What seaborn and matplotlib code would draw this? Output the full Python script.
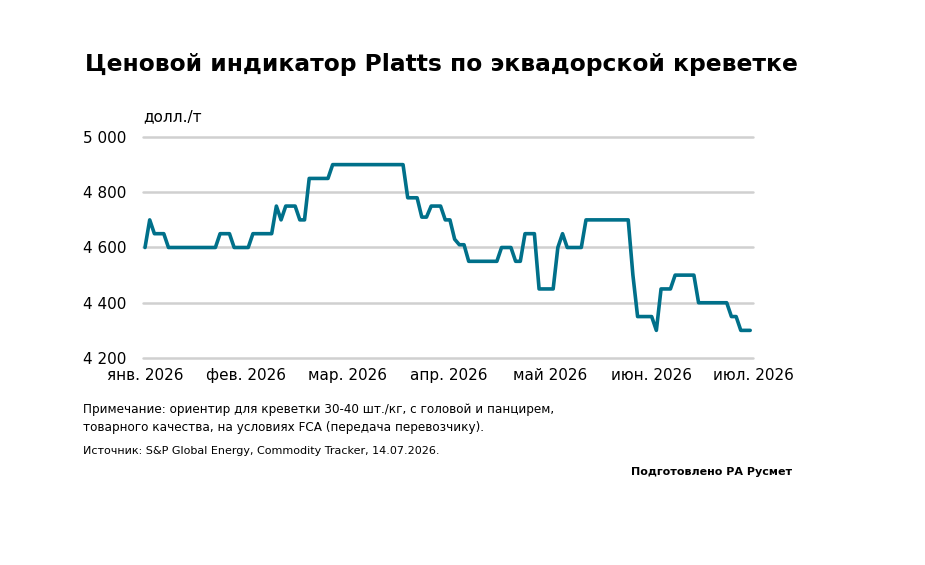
import numpy as np
import pandas as pd
import matplotlib
matplotlib.use("Agg")
import matplotlib.pyplot as plt
import seaborn as sns

# Platts indicator, USD/t, one value per observation (business days, Jan -> early Jul 2026)
prices = [
    4600, 4700, 4650, 4650, 4650, 4600, 4600, 4600, 4600, 4600,
    4600, 4600, 4600, 4600, 4600, 4600, 4650, 4650, 4650, 4600,
    4600, 4600, 4600, 4650, 4650, 4650, 4650, 4650, 4750, 4700,
    4750, 4750, 4750, 4700, 4700, 4850, 4850, 4850, 4850, 4850,
    4900, 4900, 4900, 4900, 4900, 4900, 4900, 4900, 4900, 4900,
    4900, 4900, 4900, 4900, 4900, 4900, 4780, 4780, 4780, 4710,
    4710, 4750, 4750, 4750, 4700, 4700, 4630, 4610, 4610, 4550,
    4550, 4550, 4550, 4550, 4550, 4550, 4600, 4600, 4600, 4550,
    4550, 4650, 4650, 4650, 4450, 4450, 4450, 4450, 4600, 4650,
    4600, 4600, 4600, 4600, 4700, 4700, 4700, 4700, 4700, 4700,
    4700, 4700, 4700, 4700, 4500, 4350, 4350, 4350, 4350, 4300,
    4450, 4450, 4450, 4500, 4500, 4500, 4500, 4500, 4400, 4400,
    4400, 4400, 4400, 4400, 4400, 4350, 4350, 4300, 4300, 4300,
]
month_labels = ["янв. 2026", "фев. 2026", "мар. 2026", "апр. 2026",
                "май 2026", "июн. 2026", "июл. 2026"]
y_ticks = [4200, 4400, 4600, 4800, 5000]
y_tick_labels = ["4 200", "4 400", "4 600", "4 800", "5 000"]

df = pd.DataFrame({"obs": np.arange(len(prices)), "price": prices})

sns.set_style("white")
plt.rcParams["font.family"] = ["DejaVu Sans"]
plt.rcParams["text.color"] = "black"
plt.rcParams["xtick.color"] = "black"
plt.rcParams["ytick.color"] = "black"

fig = plt.figure(figsize=(9.25, 5.65), dpi=100)
ax = fig.add_axes([143 / 925, 1 - 358 / 565, (753 - 143) / 925, (358 - 137) / 565])

line_color = "#00708a"
sns.lineplot(data=df, x="obs", y="price", ax=ax, color=line_color,
             linewidth=2.6, clip_on=False, zorder=3)

ax.set_xlim(-0.43, 129.6)
ax.set_ylim(4200, 5000)
ax.set_yticks(y_ticks)
ax.set_yticklabels(y_tick_labels, fontsize=11)
ax.set_xticks(np.linspace(0, 129.6, len(month_labels)))
ax.set_xticklabels(month_labels, fontsize=11)
ax.tick_params(axis="y", length=0, pad=12)
ax.tick_params(axis="x", length=0, pad=7)
ax.grid(axis="y", color="#d0d0d0", linewidth=1.8)
ax.grid(axis="x", visible=False)
for gl in ax.get_ygridlines():
    gl.set_clip_on(False)
ax.set_axisbelow(True)
for s in ax.spines.values():
    s.set_visible(False)
ax.set_xlabel("")
ax.set_ylabel("")

# titles and notes
fig.text(85 / 925, 1 - 64 / 565, "Ценовой индикатор Platts по эквадорской креветке",
         fontsize=16.8, fontweight="bold", va="center", ha="left")
fig.text(143 / 925, 1 - 117 / 565, "долл./т", fontsize=11, va="center", ha="left")

fig.text(83 / 925, 1 - 410 / 565,
         "Примечание: ориентир для креветки 30-40 шт./кг, с головой и панцирем,",
         fontsize=8.65, va="center", ha="left")
fig.text(83 / 925, 1 - 428 / 565,
         "товарного качества, на условиях FCA (передача перевозчику).",
         fontsize=8.65, va="center", ha="left")
fig.text(83 / 925, 1 - 451 / 565,
         "Источник: S&P Global Energy, Commodity Tracker, 14.07.2026.",
         fontsize=8, va="center", ha="left")
fig.text(792 / 925, 1 - 472 / 565, "Подготовлено РА Русмет",
         fontsize=8, fontweight="bold", va="center", ha="right")

fig.savefig("out.png", dpi=100)
